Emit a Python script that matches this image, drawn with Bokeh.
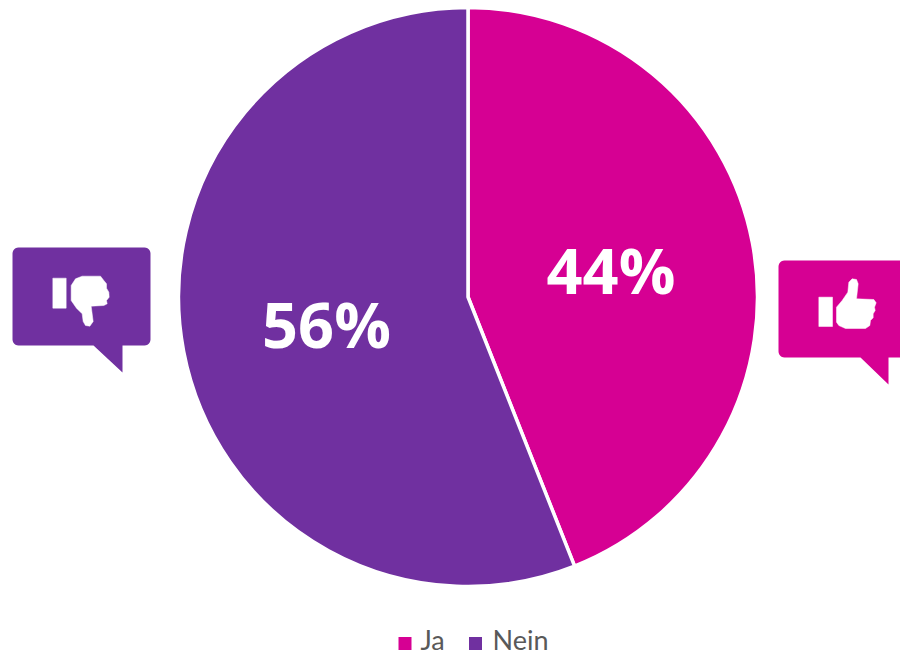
from math import pi, cos, sin
from bokeh.plotting import figure
from bokeh.models import Range1d
from bokeh.core.properties import value
from bokeh.embed import file_html
from bokeh.resources import INLINE

# --- data ---
categories = ["Ja", "Nein"]
shares = [44, 56]
share_labels = ["44%", "56%"]
colors = ["#D60093", "#7030A0"]
grey = "#595959"

W, H = 900, 655
p = figure(width=W, height=H, output_backend="svg", toolbar_location=None,
           x_range=Range1d(0, 900), y_range=Range1d(655, 0),
           min_border=0, outline_line_color=None, background_fill_color="white",
           border_fill_color="white")
p.axis.visible = False
p.grid.visible = False

# --- pie ---
cx, cy, R = 467.5, 296.5, 289.5
total = sum(shares)
ang = pi / 2  # start at 12 o'clock, clockwise in the picture
starts, ends = [], []
for s in shares:
    a2 = ang - 2 * pi * s / total
    starts.append(a2)
    ends.append(ang)
    ang = a2
p.wedge(x=[cx] * 2, y=[cy] * 2, radius=R, start_angle=starts, end_angle=ends,
        direction="anticlock", fill_color=colors, line_color="white", line_width=3.5)

# labels at positions in the slices
lab_x = [610.5, 326]
lab_y = [269, 323]
p.text(x=lab_x, y=lab_y, text=share_labels, text_color="white",
       text_font=value("Open Sans"), text_font_style="bold", text_font_size="63px",
       text_align="center", text_baseline="middle")


# --- speech bubbles ---
def bubble(x0, x1, y0, y1, r, tail):
    xs, ys = [], []
    for (ccx, ccy, a0) in [(x0 + r, y0 + r, 180), (x1 - r, y0 + r, 270),
                           (x1 - r, y1 - r, 0)]:
        for k in range(7):
            a = (a0 + 15 * k) * pi / 180
            xs.append(ccx + r * cos(a))
            ys.append(ccy + r * sin(a))
    for tx, ty in tail:
        xs.append(tx)
        ys.append(ty)
    for k in range(7):
        a = (90 + 15 * k) * pi / 180
        xs.append(x0 + r + r * cos(a))
        ys.append(y1 - r + r * sin(a))
    return xs, ys


bx, by = bubble(12, 150, 247, 345, 6, [(122, 345), (122, 372), (93, 345)])
p.patch(bx, by, fill_color=colors[1], line_color=None)
bx, by = bubble(778, 912, 260, 357, 6, [(888, 357), (888, 384), (860, 357)])
p.patch(bx, by, fill_color=colors[0], line_color=None)

# --- thumbs (outlines) ---
down_cuff = [(157, 128), (197, 128), (197, 218), (157, 218)]
down_hand = [(212, 150), (225, 130), (245, 122), (300, 122), (310, 135), (318, 145),
             (318, 158), (325, 170), (326, 185), (318, 195), (320, 205), (310, 210),
             (272, 212), (278, 258), (268, 272), (255, 270), (248, 258), (245, 235),
             (228, 218), (212, 195)]
up_cuff = [(145, 140), (186, 140), (186, 228), (145, 228)]
up_hand = [(198, 170), (215, 150), (232, 125), (235, 95), (245, 85), (258, 87),
           (263, 100), (258, 145), (310, 147), (317, 157), (312, 170), (314, 180),
           (308, 190), (308, 202), (300, 210), (298, 225), (285, 234), (225, 234),
           (205, 225), (198, 215)]
for shape, ox, oy in [(down_cuff, 0, 235), (down_hand, 0, 235),
                      (up_cuff, 770, 250), (up_hand, 770, 250)]:
    p.patch([ox + a / 3 for a, _ in shape], [oy + b / 3 for _, b in shape],
            fill_color="white", line_color="white", line_width=0.5)

# --- legend ---
sq_x = [404.5, 475]
txt_x = [420, 492]
p.scatter(x=sq_x, y=[643] * 2, marker="square", size=13, fill_color=colors, line_color=None)
p.text(x=txt_x, y=[639] * 2, text=categories, text_color=grey,
       text_font=value("Lato"), text_font_size="27px",
       text_align="left", text_baseline="middle")

open("out.html", "w").write(file_html(p, INLINE))
